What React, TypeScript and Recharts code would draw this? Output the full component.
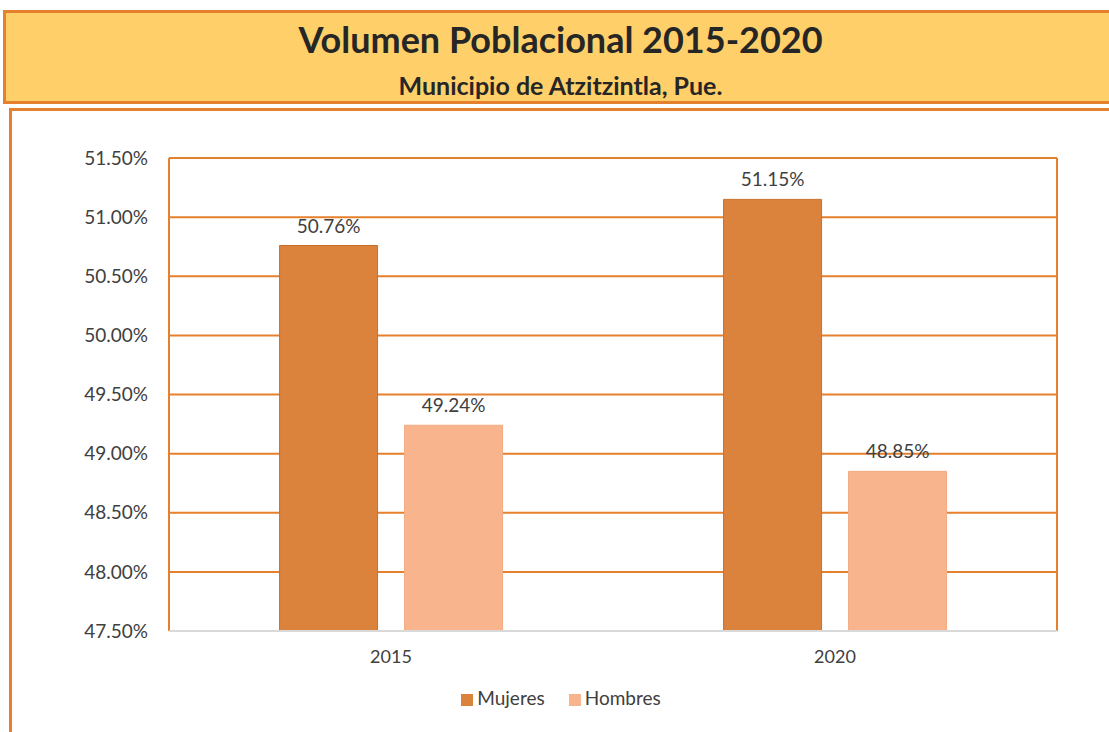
import { BarChart, Bar, XAxis, YAxis, CartesianGrid, Legend, LabelList } from 'recharts';

const years = ['2015', '2020'];
const mujeres = [50.76, 51.15];
const hombres = [49.24, 48.85];
const yTicks = [47.5, 48, 48.5, 49, 49.5, 50, 50.5, 51, 51.5];
const seriesOrder = ['Mujeres', 'Hombres'];

const data = years.map((year, i) => ({ year, Mujeres: mujeres[i], Hombres: hombres[i] }));

const FONT = 'Lato, "Noto Sans", sans-serif';
const ORANGE = '#E5802E';
const TEXT = '#404040';

const pct = (v: any) => `${Number(v).toFixed(2)}%`;

export default function App() {
  return (
    <div style={{ position: 'absolute', left: 0, top: 0, width: 1109, height: 732, overflow: 'hidden', background: '#fff', fontFamily: FONT }}>
      {/* title box */}
      <div
        style={{
          position: 'absolute', left: 3, top: 10, width: 1130, height: 88,
          background: '#FFD069', border: `3px solid ${ORANGE}`, textAlign: 'center', color: '#262626',
        }}
      >
        <div style={{ position: 'absolute', left: 0, width: 1109, top: 4, fontSize: 36, fontWeight: 700 }}>
          Volumen Poblacional 2015-2020
        </div>
        <div style={{ position: 'absolute', left: 0, width: 1109, top: 57, fontSize: 25, fontWeight: 700 }}>
          Municipio de Atzitzintla, Pue.
        </div>
      </div>
      {/* chart box */}
      <div style={{ position: 'absolute', left: 9, top: 108, width: 1130, height: 660, border: `3px solid ${ORANGE}` }} />
      <div style={{ position: 'absolute', left: 0, top: 0 }}>
        <BarChart
          width={1109}
          height={732}
          data={data}
          margin={{ top: 158, right: 52, left: 89, bottom: 20 }}
          barCategoryGap="24.9%"
          barGap={27}
        >
          <CartesianGrid
            stroke={ORANGE}
            strokeWidth={2}
            verticalCoordinatesGenerator={({ offset }: any) => [offset.left, offset.left + offset.width]}
          />
          <XAxis
            dataKey="year"
            height={55}
            axisLine={{ stroke: '#D9D9D9', strokeWidth: 2 }}
            tickLine={false}
            tickSize={0}
            tickMargin={19}
            tick={{ fill: TEXT, fontSize: 18, fontFamily: FONT }}
          />
          <YAxis
            width={80}
            domain={[47.5, 51.5]}
            ticks={yTicks}
            allowDataOverflow
            axisLine={false}
            tickLine={false}
            tickSize={0}
            tickMargin={21}
            tickFormatter={pct}
            tick={{ fill: TEXT, fontSize: 19, fontFamily: FONT }}
          />
          <Legend
            verticalAlign="bottom"
            height={26}
            iconType="square"
            iconSize={12}
            itemSorter={(item: any) => seriesOrder.indexOf(item.value)}
            wrapperStyle={{ fontSize: 19, fontFamily: FONT }}
            formatter={(value: string) => <span style={{ color: TEXT, marginRight: 14 }}>{value}</span>}
          />
          <Bar dataKey="Mujeres" fill="#DB823D" stroke="#C9712C" isAnimationActive={false}>
            <LabelList dataKey="Mujeres" position="top" offset={13} formatter={pct} fill={TEXT} fontSize={19} fontFamily={FONT} />
          </Bar>
          <Bar dataKey="Hombres" fill="#F8B58D" stroke="#F4AA80" isAnimationActive={false}>
            <LabelList dataKey="Hombres" position="top" offset={13} formatter={pct} fill={TEXT} fontSize={19} fontFamily={FONT} />
          </Bar>
        </BarChart>
      </div>
    </div>
  );
}
